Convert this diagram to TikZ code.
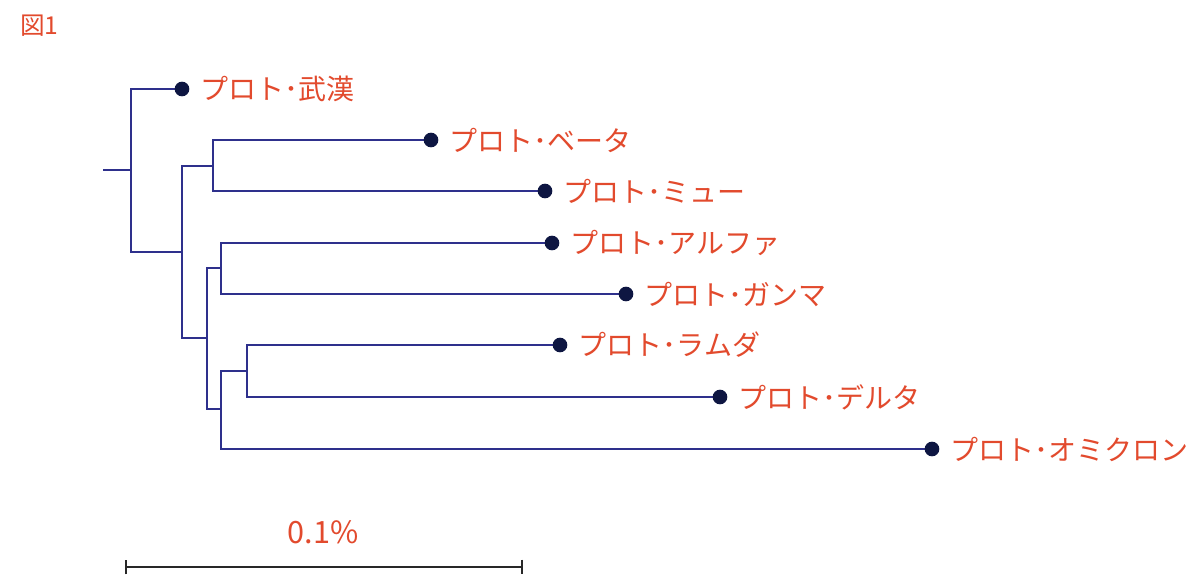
\documentclass[tikz,border=0pt]{standalone}
\usepackage{fontspec}
\setmainfont{Noto Sans CJK JP}
\usetikzlibrary{arrows.meta}
\definecolor{lblred}{RGB}{226,74,45}
\definecolor{branchblue}{RGB}{46,48,140}
\definecolor{dotnavy}{RGB}{14,22,66}
\definecolor{bargray}{RGB}{40,40,40}
\tikzset{
  branch/.style={draw=branchblue, line width=2.1pt, line join=miter},
  leafdot/.style={circle, fill=dotnavy, inner sep=0pt, minimum size=11pt},
  leaflabel/.style={anchor=west, inner sep=0pt, text=lblred, font=\fontsize{21}{24}\selectfont},
  scalebar/.style={draw=bargray, line width=2pt, {Bar[width=11pt,line width=1.8pt]}-{Bar[width=11pt,line width=1.8pt]}},
}
\begin{document}
\begin{tikzpicture}[x=0.75pt,y=-0.75pt]
\useasboundingbox (0,0) rectangle (1200,582);
% title
\node[anchor=west, inner sep=0pt, text=lblred, font=\fontsize{18.5}{20}\selectfont] (title) at (20,26) {図1};
% leaf positions
\coordinate (wuhan) at (182,89);
\coordinate (beta) at (431,140);
\coordinate (mu) at (545,191);
\coordinate (alpha) at (552,243);
\coordinate (gamma) at (626,294);
\coordinate (lambda) at (560,345);
\coordinate (delta) at (720,397);
\coordinate (omicron) at (932,449);
% internal nodes
\coordinate (stub) at (103,170);
\coordinate (root) at (131,170);
\coordinate (nA) at (182,252);
\coordinate (nB) at (213,166);
\coordinate (nD) at (207,338);
\coordinate (nC) at (221,268);
\coordinate (nE) at (221,409);
\coordinate (nF) at (247,371);
% branches
\draw[branch] (stub) -- (root);
\draw[branch] (wuhan) -| (root) |- (nA);
\draw[branch] (nB) -| (nA) |- (nD);
\draw[branch] (beta) -| (nB) |- (mu);
\draw[branch] (nC) -| (nD) |- (nE);
\draw[branch] (alpha) -| (nC) |- (gamma);
\draw[branch] (nF) -| (nE) |- (omicron);
\draw[branch] (lambda) -| (nF) |- (delta);
% dots and labels
\foreach \n/\t in {wuhan/プロト･武漢, beta/プロト･ベータ, mu/プロト･ミュー, alpha/プロト･アルファ, gamma/プロト･ガンマ, lambda/プロト･ラムダ, delta/プロト･デルタ, omicron/プロト･オミクロン}{
  \node[leafdot] (\n-dot) at (\n) {};
  \node[leaflabel] (\n-lbl) at ([xshift=14pt]\n-dot.center) {\t};
}
% scale bar
\coordinate (sbL) at (125,567);
\coordinate (sbR) at (523,567);
\draw[scalebar] (sbL) -- (sbR);
\node[text=lblred, inner sep=0pt, font=\fontsize{23}{26}\selectfont] (sblabel) at (323,532) {0.1\%};
\end{tikzpicture}
\end{document}
